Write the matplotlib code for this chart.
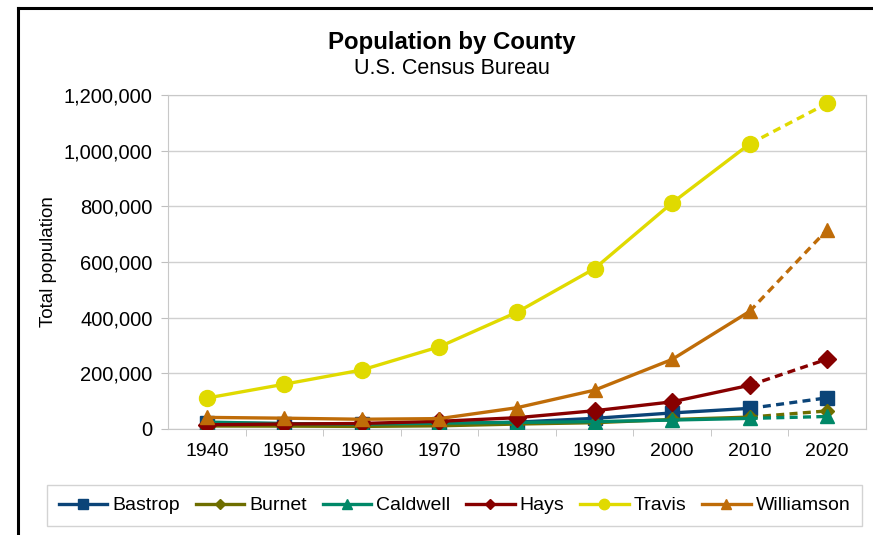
import matplotlib
matplotlib.use("Agg")
import matplotlib.pyplot as plt
from matplotlib.lines import Line2D
from matplotlib.ticker import FuncFormatter

plt.rcParams["font.family"] = ["Liberation Sans", "DejaVu Sans"]

# --- Datos ---
years = [1940, 1950, 1960, 1970, 1980, 1990, 2000, 2010, 2020]
bastrop = [21610, 19622, 16925, 17297, 24726, 38263, 57733, 74171, 112000]
burnet = [10771, 10356, 9265, 11420, 17803, 22677, 34147, 42750, 65000]
caldwell = [24893, 19350, 17222, 21178, 23637, 26392, 32194, 38066, 45000]
hays = [15349, 17840, 19934, 27642, 40594, 65614, 97589, 157107, 251000]
travis = [111053, 160980, 212136, 295516, 419573, 576407, 812280, 1024266, 1170000]
williamson = [41698, 38853, 35044, 37305, 76521, 139551, 249967, 422679, 716000]

# nombre, valores, color, marcador, tamaño en gráfico, tamaño en leyenda
series = [
    ("Bastrop", bastrop, "#0B4478", "s", 9.5, 6.5),
    ("Burnet", burnet, "#6E6E00", "D", 7, 5),
    ("Caldwell", caldwell, "#008868", "^", 10.5, 6.5),
    ("Hays", hays, "#870000", "D", 9, 5.5),
    ("Travis", travis, "#E0DA00", "o", 11.5, 7.5),
    ("Williamson", williamson, "#BF6C08", "^", 10.5, 6.5),
]

fig = plt.figure(figsize=(8.73, 5.35), dpi=100)
ax = fig.add_axes([168 / 873, 1 - 429 / 535, (866 - 168) / 873, (429 - 95) / 535])

x = list(range(len(years)))
handles = []
for name, vals, col, mk, ms, lms in series:
    # tramo censal (sólido) y proyección 2010-2020 (discontinua)
    ax.plot(x[:-1], vals[:-1], color=col, lw=2.4, marker=mk, ms=ms, zorder=3)
    ax.plot(x[-2:], vals[-2:], color=col, lw=2.4, ls=(0, (2.4, 1.6)), zorder=3)
    ax.plot(x[-1:], vals[-1:], color=col, marker=mk, ms=ms, ls="none", zorder=3)
    handles.append(Line2D([], [], color=col, lw=2.4, marker=mk, ms=lms, label=name))

ax.set_xlim(-0.5, len(years) - 0.5)
ax.set_ylim(0, 1200000)
ax.set_yticks(range(0, 1200001, 200000))
ax.yaxis.set_major_formatter(FuncFormatter(lambda v, p: f"{int(v):,}"))
ax.set_xticks(x)
ax.set_xticklabels([str(y) for y in years])
ax.set_xticks([i + 0.5 for i in x[:-1]], minor=True)
ax.tick_params(axis="x", which="major", length=0, pad=10, labelsize=14)
ax.tick_params(axis="x", which="minor", length=5, color="#BFBFBF")
ax.tick_params(axis="y", length=5, color="#BFBFBF", pad=6, labelsize=14.5)
ax.grid(axis="y", color="#D0D0D0", lw=1)
ax.set_axisbelow(True)
for s in ax.spines.values():
    s.set_color("#C8C8C8")
ax.set_ylabel("Total population", fontsize=13.5, labelpad=5)

fig.text(0.518, 1 - 42 / 535, "Population by County", ha="center", va="center",
         fontsize=17.3, fontweight="bold")
fig.text(0.518, 1 - 69 / 535, "U.S. Census Bureau", ha="center", va="center", fontsize=15.5)

leg = fig.legend(handles=handles, loc="lower left", ncol=6, mode="expand",
                 bbox_to_anchor=(47 / 873, 9 / 535, 815 / 873, 43 / 535),
                 fontsize=14, frameon=True, fancybox=False, handlelength=2.5,
                 handletextpad=0.25, borderpad=0.6, borderaxespad=0)
leg.get_frame().set_edgecolor("#C8C8C8")
leg.get_frame().set_linewidth(1)

# marco negro del gráfico
fig.add_artist(Line2D([18 / 873, 18 / 873], [0, 1 - 8 / 535], color="black", lw=2.2,
                      transform=fig.transFigure))
fig.add_artist(Line2D([18 / 873, 1], [1 - 8 / 535, 1 - 8 / 535], color="black", lw=2.2,
                      transform=fig.transFigure))

fig.savefig("out.png", dpi=100)
